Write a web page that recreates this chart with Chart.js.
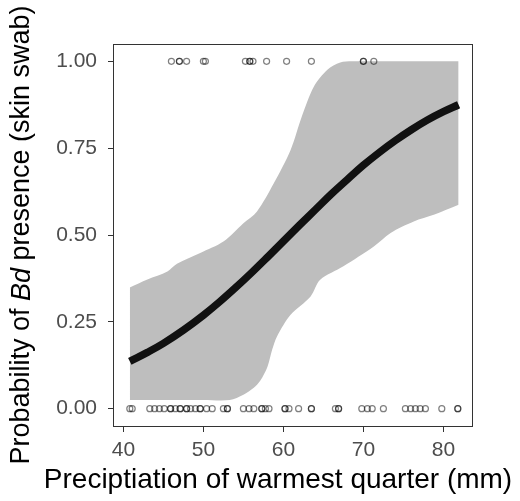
<!DOCTYPE html>
<html>
<head>
<meta charset="utf-8">
<script src="https://cdn.jsdelivr.net/npm/chart.js@4.4.1/dist/chart.umd.min.js"></script>
<style>
  html, body { margin: 0; padding: 0; background: #fff; }
  #wrap { width: 520px; height: 501px; position: relative; }
</style>
</head>
<body>
<div id="wrap"><canvas id="chart" width="520" height="501"></canvas></div>
<script>
// fitted probability curve
const fitX = [40.8, 43, 45, 47.5, 50, 52, 54, 56, 58, 60, 62, 64, 66, 68, 70, 72, 74, 76, 78, 80, 81.9];
const fitY = [0.136, 0.162, 0.188, 0.226, 0.269, 0.307, 0.348, 0.391, 0.436, 0.482, 0.528, 0.573, 0.618, 0.660, 0.701, 0.738, 0.772, 0.803, 0.831, 0.855, 0.875];

// confidence band
const upX = [40.8, 43, 45.5, 46.7, 49.6, 52.5, 55.0, 56.7, 58.8, 60.9, 62.3, 63.8, 65.5, 67.1, 69.3, 81.9];
const upY = [0.349, 0.372, 0.395, 0.417, 0.448, 0.481, 0.534, 0.568, 0.649, 0.745, 0.841, 0.927, 0.976, 0.997, 1.0, 1.0];
const loX = [40.8, 50, 53.3, 55.0, 56.3, 57.1, 58.0, 58.6, 59.2, 60.9, 63.4, 64.6, 67.5, 71.3, 73.4, 76.3, 78.8, 81.9];
const loY = [0.025, 0.025, 0.025, 0.04, 0.06, 0.08, 0.12, 0.17, 0.208, 0.27, 0.323, 0.371, 0.41, 0.467, 0.506, 0.539, 0.558, 0.587];

// observations: Bd present (1) / absent (0)
const presentX = [46.0, 47.0, 47.0, 47.9, 50.0, 50.25, 55.25, 55.8, 55.8, 56.2, 57.9, 60.4, 63.5, 70.0, 70.0, 71.3];
const absentX = [40.8, 41.1, 43.3, 43.9, 44.5, 45.1, 45.9, 45.9, 46.5, 47.1, 47.1, 47.9, 47.9, 48.4, 49.0, 49.6, 49.6, 50.4, 51.1,
                 52.5, 53.0, 53.0, 55.0, 55.7, 56.3, 57.3, 57.3, 57.75, 58.2, 60.2, 60.2, 60.7, 61.9, 63.5, 63.5,
                 66.5, 66.9, 66.9, 69.8, 70.5, 71.1, 72.5, 75.25, 75.9, 76.5, 77.1, 77.75, 79.8, 81.8, 81.8];

const xTicks = [40, 50, 60, 70, 80];
const yTicks = [0, 0.25, 0.5, 0.75, 1];

const xTitle = 'Preciptiation of warmest quarter (mm)';
const yTitleParts = [['Probability of ', false], ['Bd', true], [' presence (skin swab)', false]];

const FONT = '"Liberation Sans", Arial, sans-serif';

const pts = (xs, ys) => xs.map((x, i) => ({ x: x, y: ys[i] }));

const frame = {
    id: 'frame',
    afterDraw(chart) {
        const { ctx, chartArea: a } = chart;
        ctx.save();
        ctx.strokeStyle = '#333333';
        ctx.lineWidth = 1;
        ctx.strokeRect(a.left + 0.5, a.top + 0.5, a.right - a.left - 1, a.bottom - a.top);

        // axis titles
        ctx.fillStyle = '#000';
        ctx.textBaseline = 'middle';
        ctx.font = '28px ' + FONT;
        ctx.textAlign = 'center';
        ctx.fillText(xTitle, 278, 480);

        ctx.translate(22, 235);
        ctx.rotate(-Math.PI / 2);
        ctx.textAlign = 'left';
        let total = 0;
        const widths = yTitleParts.map(([t, it]) => {
            ctx.font = (it ? 'italic ' : '') + '27px ' + FONT;
            const w = ctx.measureText(t).width;
            total += w;
            return w;
        });
        let x = -total / 2;
        yTitleParts.forEach(([t, it], i) => {
            ctx.font = (it ? 'italic ' : '') + '27px ' + FONT;
            ctx.fillText(t, x, 0);
            x += widths[i];
        });
        ctx.restore();
    }
};

new Chart(document.getElementById('chart').getContext('2d'), {
    type: 'scatter',
    data: {
        datasets: [
            {
                label: 'present', data: presentX.map(x => ({ x: x, y: 1 })), order: 0,
                pointRadius: 3, pointBorderWidth: 1.2, pointBackgroundColor: 'rgba(0,0,0,0)',
                pointBorderColor: 'rgba(0,0,0,0.5)', showLine: false
            },
            {
                label: 'absent', data: absentX.map(x => ({ x: x, y: 0 })), order: 0,
                pointRadius: 3, pointBorderWidth: 1.2, pointBackgroundColor: 'rgba(0,0,0,0)',
                pointBorderColor: 'rgba(0,0,0,0.5)', showLine: false
            },
            {
                type: 'line', label: 'fit', data: pts(fitX, fitY), order: 1,
                borderColor: '#111111', borderWidth: 7.5, pointRadius: 0, tension: 0.4, fill: false
            },
            {
                type: 'line', label: 'upper', data: pts(upX, upY), order: 2,
                borderWidth: 0, borderColor: 'rgba(0,0,0,0)', pointRadius: 0, tension: 0.3,
                backgroundColor: '#bebebe', fill: '+1'
            },
            {
                type: 'line', label: 'lower', data: pts(loX, loY), order: 3,
                borderWidth: 0, borderColor: 'rgba(0,0,0,0)', pointRadius: 0, tension: 0.3, fill: false
            }
        ]
    },
    options: {
        responsive: false,
        animation: false,
        layout: { padding: { left: 0, top: 44, right: 47, bottom: 0 } },
        plugins: { legend: { display: false }, tooltip: { enabled: false } },
        scales: {
            x: {
                type: 'linear', min: 38.7, max: 83.7,
                afterBuildTicks: s => { s.ticks = xTicks.map(v => ({ value: v })); },
                afterFit: s => { s.height = 75; },
                grid: { drawOnChartArea: false, tickLength: 6, tickColor: '#333333', tickWidth: 1 },
                border: { display: false },
                ticks: { color: '#4d4d4d', font: { family: FONT, size: 21 }, padding: 6, maxRotation: 0 }
            },
            y: {
                type: 'linear', min: -0.05, max: 1.05,
                afterBuildTicks: s => { s.ticks = yTicks.map(v => ({ value: v })); },
                afterFit: s => { s.width = 113; },
                grid: { drawOnChartArea: false, tickLength: 5, tickColor: '#333333', tickWidth: 1 },
                border: { display: false },
                ticks: { color: '#4d4d4d', font: { family: FONT, size: 21 }, padding: 11, callback: v => v.toFixed(2) }
            }
        }
    },
    plugins: [frame]
});
</script>
</body>
</html>
